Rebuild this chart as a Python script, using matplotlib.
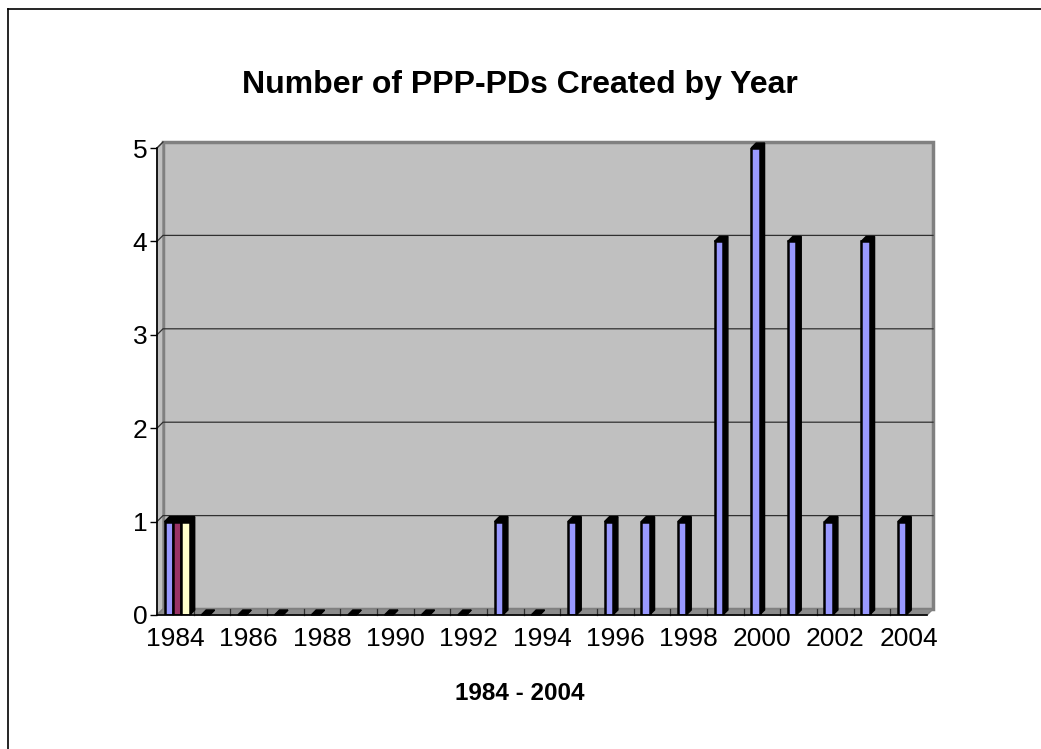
import matplotlib.pyplot as plt
import numpy as np
from matplotlib.patches import Polygon
from matplotlib.lines import Line2D

plt.rcParams['font.family'] = ['Liberation Sans', 'DejaVu Sans']

years = list(range(1984, 2005))
series_blue = [1, 0, 0, 0, 0, 0, 0, 0, 0, 1, 0, 1, 1, 1, 1, 4, 5, 4, 1, 4, 1]
series_purple = [1] + [None] * 20
series_yellow = [1] + [None] * 20
colors = ['#9999FF', '#993366', '#FFFFCC']
title = 'Number of PPP-PDs Created by Year'
xlabel = '1984 - 2004'

fig = plt.figure(figsize=(10.41, 7.49), dpi=100)
W, H = 1041, 749
ax = fig.add_axes([157 / W, (H - 615) / H, (927 - 157) / W, (615 - 148) / H])
n = len(years)
ax.set_xlim(0, n)
ax.set_ylim(0, 5)

# 3D depth offset in data units (about 6 px each way)
dx = 6 / (770 / n)
dy = 6 / (467 / 5)

# back wall, left wall and floor
ax.add_patch(Polygon([(dx, dy), (n + dx, dy), (n + dx, 5 + dy), (dx, 5 + dy)],
                     closed=True, fc='#C0C0C0', ec='#808080', lw=2.5, zorder=0, clip_on=False))
ax.add_patch(Polygon([(0, 0), (dx, dy), (dx, 5 + dy), (0, 5)],
                     closed=True, fc='#C0C0C0', ec='#808080', lw=1, zorder=0.5, clip_on=False))
ax.add_patch(Polygon([(0, 0), (n, 0), (n + dx, dy), (dx, dy)],
                     closed=True, fc='#8C8C8C', ec='#808080', lw=1, zorder=0.5, clip_on=False))

# gridlines on the walls
for k in range(1, 5):
    ax.plot([0, dx, n + dx], [k, k + dy, k + dy], color='#303030', lw=0.9, zorder=0.8, clip_on=False)
ax.plot([0, dx], [5, 5 + dy], color='#303030', lw=0.9, zorder=0.8, clip_on=False)

# category boundary ticks on the floor
for b in range(1, n):
    ax.plot([b, b], [0, dy], color='#303030', lw=0.9, zorder=0.8, clip_on=False)

bw = 8.4 / (770 / n)
off = 7.5 / (770 / n)
bdx = 5 / (770 / n)
bdy = 5 / (467 / 5)
for i, vals in enumerate([series_blue, series_purple, series_yellow]):
    for j, v in enumerate(vals):
        if v is None:
            continue
        x0 = j + off + i * bw
        # side and top faces
        ax.add_patch(Polygon([(x0 + bw, 0), (x0 + bw + bdx, bdy), (x0 + bw + bdx, v + bdy), (x0 + bw, v)],
                             closed=True, fc='black', ec='black', lw=1, zorder=3 - i * 0.01, clip_on=False))
        ax.add_patch(Polygon([(x0, v), (x0 + bw, v), (x0 + bw + bdx, v + bdy), (x0 + bdx, v + bdy)],
                             closed=True, fc='black', ec='black', lw=1, zorder=3 - i * 0.01, clip_on=False))
        if v > 0:
            ax.bar(x0, v, width=bw, align='edge', color=colors[i], edgecolor='black',
                   linewidth=1.8, zorder=3.5)

for side in ['top', 'right']:
    ax.spines[side].set_visible(False)
ax.spines['left'].set_linewidth(1.2)
ax.spines['bottom'].set_linewidth(1.2)
ax.spines['left'].set_zorder(4)
ax.spines['bottom'].set_zorder(4)

ax.set_yticks(range(6))
ax.tick_params(axis='y', length=5, width=1, labelsize=19, pad=2)
ax.set_xticks([j + 0.5 for j in range(0, n, 2)])
ax.set_xticklabels([str(y) for y in years[::2]])
ax.tick_params(axis='x', length=0, labelsize=19, pad=9)

fig.text(520 / W, 1 - 85 / H, title, ha='center', va='center', fontsize=23, fontweight='bold')
fig.text(520 / W, 1 - 693 / H, xlabel, ha='center', va='center', fontsize=17.5, fontweight='bold')

# chart border
fig.add_artist(Line2D([8 / W, 8 / W], [0, 1 - 9 / H], color='black', lw=1.2))
fig.add_artist(Line2D([8 / W, 1], [1 - 9 / H, 1 - 9 / H], color='black', lw=1.2))

fig.savefig('out.png', dpi=100)
